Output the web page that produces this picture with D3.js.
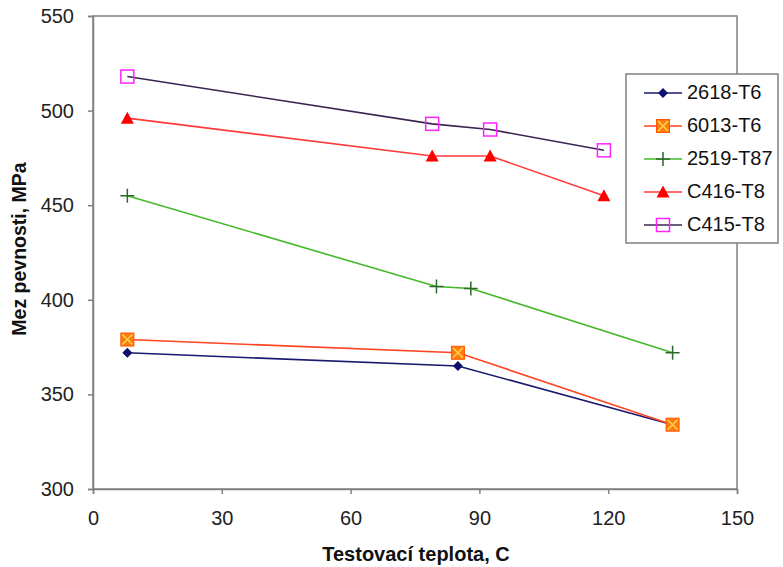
<!DOCTYPE html>
<html>
<head>
  <style>
    html, body { margin: 0; padding: 0; background: #fff; }
    svg text { font-family: Arial, "Liberation Sans", sans-serif; }
  </style>
  <script src="https://d3js.org/d3.v7.min.js"></script>
</head>
<body>
  <div id="chart"></div>
  <script>
    // series data
    const seriesNames = ["2618-T6", "6013-T6", "2519-T87", "C416-T8", "C415-T8"];
    const t2618 = [8, 85, 135];
    const v2618 = [372, 365, 334];
    const t6013 = [8, 85, 135];
    const v6013 = [379, 372, 334];
    const t2519 = [8, 80, 88, 135];
    const v2519 = [455, 407, 406, 372];
    const tC416 = [8, 79, 92.5, 119];
    const vC416 = [496, 476, 476, 455];
    const tC415 = [8, 79, 92.5, 119];
    const vC415 = [518, 493, 490, 479];
    const xTicks = [0, 30, 60, 90, 120, 150];
    const yTicks = [300, 350, 400, 450, 500, 550];

    const width = 783, height = 567;
    const margin = { top: 16, right: 46, bottom: 78, left: 93 };

    const series = [
      { name: seriesNames[0], t: t2618, v: v2618, line: "#1a1a6e", marker: "diamond" },
      { name: seriesNames[1], t: t6013, v: v6013, line: "#ff4422", marker: "xsquare" },
      { name: seriesNames[2], t: t2519, v: v2519, line: "#44b82a", marker: "plus" },
      { name: seriesNames[3], t: tC416, v: vC416, line: "#ff3a3a", marker: "triangle" },
      { name: seriesNames[4], t: tC415, v: vC415, line: "#3a2450", marker: "square" }
    ];

    const svg = d3.select("#chart").append("svg")
      .attr("width", width)
      .attr("height", height);

    const x = d3.scaleLinear().domain([0, 150]).range([margin.left, width - margin.right]);
    const y = d3.scaleLinear().domain([300, 550]).range([height - margin.bottom, margin.top]);

    // plot frame
    svg.append("rect")
      .attr("x", x(0)).attr("y", y(550))
      .attr("width", x(150) - x(0)).attr("height", y(300) - y(550))
      .attr("fill", "none").attr("stroke", "#808080").attr("stroke-width", 1.5);

    const xAxis = svg.append("g")
      .attr("transform", `translate(0,${y(300)})`)
      .call(d3.axisBottom(x).tickValues(xTicks).tickSize(5).tickPadding(17));
    const yAxis = svg.append("g")
      .attr("transform", `translate(${x(0)},0)`)
      .call(d3.axisLeft(y).tickValues(yTicks).tickSize(5).tickPadding(14));

    [xAxis, yAxis].forEach(g => {
      g.select(".domain").attr("stroke", "#808080").attr("stroke-width", 1.5);
      g.selectAll(".tick line").attr("stroke", "#808080").attr("stroke-width", 1.5);
      g.selectAll(".tick text")
        .attr("font-size", 20).attr("fill", "#222")
        .attr("font-family", "Arial, 'Liberation Sans', sans-serif");
    });

    svg.append("text")
      .attr("x", 416).attr("y", 561)
      .attr("text-anchor", "middle")
      .attr("font-size", 20).attr("font-weight", "bold").attr("fill", "#111")
      .text("Testovací teplota, C");

    svg.append("text")
      .attr("transform", `translate(26,249) rotate(-90)`)
      .attr("text-anchor", "middle")
      .attr("font-size", 19.5).attr("font-weight", "bold").attr("fill", "#111")
      .text("Mez pevnosti, MPa");

    function drawMarker(g, type, cx, cy) {
      if (type === "diamond") {
        g.append("path")
          .attr("d", `M${cx},${cy - 5}L${cx + 5},${cy}L${cx},${cy + 5}L${cx - 5},${cy}Z`)
          .attr("fill", "#101070");
      } else if (type === "xsquare") {
        g.append("rect").attr("x", cx - 6.5).attr("y", cy - 6.5)
          .attr("width", 13).attr("height", 13)
          .attr("fill", "#ff7a10").attr("stroke", "#ff5500").attr("stroke-width", 1);
        g.append("path")
          .attr("d", `M${cx - 5},${cy - 5}L${cx + 5},${cy + 5}M${cx + 5},${cy - 5}L${cx - 5},${cy + 5}`)
          .attr("stroke", "#ffd84a").attr("stroke-width", 1.5);
      } else if (type === "plus") {
        g.append("path")
          .attr("d", `M${cx - 7},${cy}L${cx + 7},${cy}M${cx},${cy - 7}L${cx},${cy + 7}`)
          .attr("stroke", "#2a6a2a").attr("stroke-width", 1.5);
      } else if (type === "triangle") {
        g.append("path")
          .attr("d", `M${cx},${cy - 6.5}L${cx + 6.5},${cy + 5.5}L${cx - 6.5},${cy + 5.5}Z`)
          .attr("fill", "#ff0000");
      } else if (type === "square") {
        g.append("rect").attr("x", cx - 6.5).attr("y", cy - 6.5)
          .attr("width", 13).attr("height", 13)
          .attr("fill", "none").attr("stroke", "#ff22ff").attr("stroke-width", 1.5);
      }
    }

    const line = d3.line().x(d => x(d[0])).y(d => y(d[1]));

    series.forEach(s => {
      const pts = s.t.map((t, i) => [t, s.v[i]]);
      const g = svg.append("g");
      g.append("path").datum(pts)
        .attr("d", line)
        .attr("fill", "none").attr("stroke", s.line).attr("stroke-width", 1.6);
      pts.forEach(p => drawMarker(g, s.marker, x(p[0]), y(p[1])));
    });

    // legend
    const legend = svg.append("g").attr("transform", "translate(626,74)");
    legend.append("rect")
      .attr("width", 152).attr("height", 169)
      .attr("fill", "#fff").attr("stroke", "#808080").attr("stroke-width", 1.5);
    series.forEach((s, i) => {
      const ly = 19 + i * 33;
      const g = legend.append("g");
      g.append("line").attr("x1", 18).attr("x2", 56).attr("y1", ly).attr("y2", ly)
        .attr("stroke", s.line).attr("stroke-width", 1.6);
      drawMarker(g, s.marker, 37, ly);
      g.append("text").attr("x", 61).attr("y", ly + 5.5)
        .attr("font-size", 20).attr("fill", "#111")
        .text(s.name);
    });
  </script>
</body>
</html>
